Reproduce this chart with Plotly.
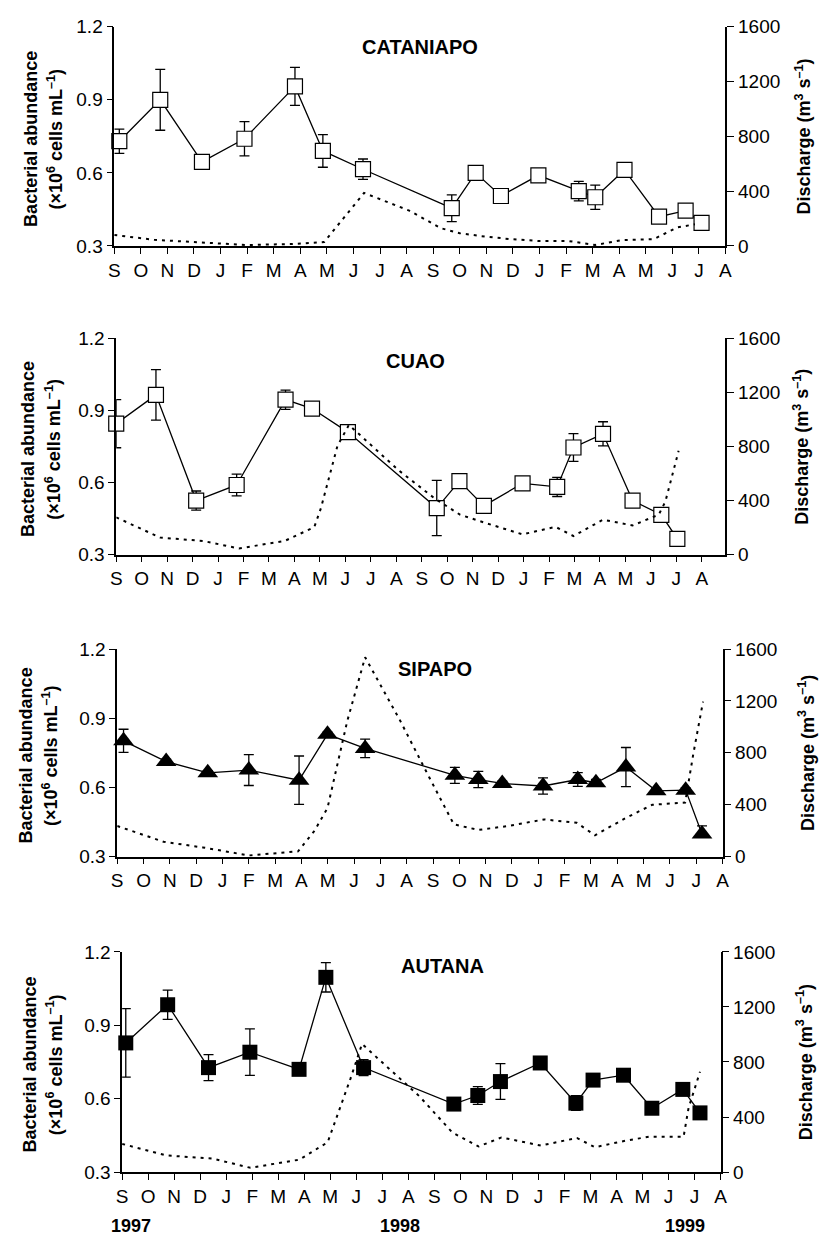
import plotly.graph_objects as go

W, H = 824, 1248

# Month axis: September 1997 to August 1999
months = ["S", "O", "N", "D", "J", "F", "M", "A", "M", "J", "J", "A"] * 2
month_pos = list(range(24))
years = ["1997", "1998", "1999"]

# ---- CATANIAPO ----
cat_x = [0.19, 1.73, 3.3, 4.9, 6.8, 7.85, 9.36, 12.7, 13.6, 14.55, 15.96, 17.48, 18.1, 19.2, 20.5, 21.5, 22.1]
cat_bact = [0.73, 0.90, 0.645, 0.74, 0.955, 0.69, 0.615, 0.455, 0.60, 0.505, 0.59, 0.525, 0.50, 0.612, 0.42, 0.445, 0.395]
cat_sd = [0.05, 0.125, 0.0, 0.07, 0.078, 0.067, 0.042, 0.055, 0.0, 0.0, 0.01, 0.04, 0.05, 0.005, 0.012, 0.0, 0.0]
cat_sd_lo = cat_sd
cat_qx = [0, 1.5, 3.6, 5.0, 6.7, 7.9, 9.4, 11.1, 12.3, 13.0, 13.8, 14.9, 16.0, 17.1, 18.1, 19.1, 20.3, 21.2, 21.85]
cat_q = [80, 45, 22, 7, 14, 29, 387, 258, 129, 93, 72, 50, 36, 36, 7, 43, 50, 136, 158]

# ---- CUAO ----
cuao_x = [0.0, 1.56, 3.14, 4.73, 6.65, 7.69, 9.1, 12.59, 13.48, 14.44, 15.96, 17.32, 17.96, 19.12, 20.28, 21.41, 22.04]
cuao_bact = [0.845, 0.965, 0.525, 0.59, 0.945, 0.908, 0.81, 0.494, 0.606, 0.503, 0.597, 0.582, 0.746, 0.803, 0.525, 0.466, 0.366]
cuao_sd = [0.10, 0.105, 0.04, 0.045, 0.04, 0.0, 0.0, 0.115, 0.0, 0.008, 0.0, 0.04, 0.058, 0.05, 0.0, 0.0, 0.0]
cuao_sd_lo = cuao_sd
cuao_qx = [0, 1.73, 3.4, 4.82, 6.62, 7.78, 8.04, 8.69, 9.14, 11.1, 12.5, 13.5, 14.5, 15.96, 17.25, 17.96, 19.12, 20.28, 21.31, 21.57, 22.09]
cuao_q = [276, 126, 102, 46, 102, 204, 344, 805, 960, 623, 417, 296, 235, 150, 206, 138, 259, 216, 296, 393, 768]

# ---- SIPAPO ----
sip_x = [0.24, 1.86, 3.44, 5.0, 6.91, 7.99, 9.42, 12.83, 13.72, 14.63, 16.18, 17.5, 18.19, 19.33, 20.48, 21.6, 22.22]
sip_bact = [0.802, 0.712, 0.663, 0.675, 0.631, 0.83, 0.769, 0.652, 0.634, 0.617, 0.606, 0.634, 0.62, 0.688, 0.585, 0.588, 0.398]
sip_sd = [0.05, 0.01, 0.01, 0.067, 0.105, 0.01, 0.04, 0.035, 0.035, 0.01, 0.035, 0.03, 0.015, 0.085, 0.01, 0.01, 0.035]
sip_sd_lo = [0.05, 0.01, 0.01, 0.067, 0.105, 0.01, 0.04, 0.035, 0.035, 0.01, 0.035, 0.03, 0.015, 0.085, 0.01, 0.01, 0.0]
sip_qx = [0, 1.76, 3.25, 5.0, 6.87, 7.5, 7.99, 8.74, 9.42, 10.73, 11.85, 12.79, 13.72, 14.85, 16.22, 17.46, 18.15, 19.33, 20.33, 21.58, 21.89, 22.26]
sip_q = [235, 114, 70, 8, 40, 200, 374, 1044, 1537, 1056, 613, 248, 205, 235, 286, 260, 164, 298, 399, 416, 791, 1195]

# ---- AUTANA ----
aut_x = [0.14, 1.75, 3.32, 4.91, 6.8, 7.83, 9.28, 12.75, 13.67, 14.54, 16.07, 17.44, 18.1, 19.27, 20.36, 21.55, 22.21]
aut_bact = [0.828, 0.984, 0.727, 0.79, 0.72, 1.096, 0.727, 0.578, 0.613, 0.67, 0.746, 0.582, 0.676, 0.696, 0.561, 0.638, 0.542]
aut_sd = [0.14, 0.06, 0.053, 0.095, 0.0, 0.06, 0.033, 0.0, 0.036, 0.073, 0.0, 0.03, 0.0, 0.0, 0.0, 0.0, 0.0]
aut_sd_lo = aut_sd
aut_qx = [0, 1.71, 3.48, 4.93, 6.82, 7.9, 8.78, 9.22, 10.67, 11.43, 12.69, 13.7, 14.58, 16.09, 17.48, 18.17, 19.37, 20.25, 21.58, 21.77, 22.21]
aut_q = [205, 121, 98, 31, 91, 217, 681, 931, 681, 550, 288, 186, 252, 193, 248, 181, 229, 257, 257, 466, 729]

FONT = "Liberation Sans, Arial, sans-serif"
TICK_SIZE = 19
LABEL_SIZE = 18


def fx(p):
    return p / W


def fy(p):
    return 1 - p / H


# Each panel: river name, series, frame in pixels (left, right, top, bottom), x-axis end,
# marker style, and positions of the text around it.
panels = [
    dict(name="CATANIAPO", x=cat_x, y=cat_bact, sd=cat_sd, sd_lo=cat_sd_lo, qx=cat_qx, q=cat_q,
         frame=(110, 731, 17, 240), xmax=23,
         marker=dict(symbol="square", size=15, color="white", line=dict(color="black", width=1.2)),
         title_xy=(421, 38), ylab_x=(26, 50), rlab_x=810),
    dict(name="CUAO", x=cuao_x, y=cuao_bact, sd=cuao_sd, sd_lo=cuao_sd_lo, qx=cuao_qx, q=cuao_q,
         frame=(112, 731, 334, 554), xmax=23.93,
         marker=dict(symbol="square", size=15, color="white", line=dict(color="black", width=1.2)),
         title_xy=(416, 357), ylab_x=(23, 48), rlab_x=808),
    dict(name="SIPAPO", x=sip_x, y=sip_bact, sd=sip_sd, sd_lo=sip_sd_lo, qx=sip_qx, q=sip_q,
         frame=(113, 728, 650, 861), xmax=23,
         marker=dict(symbol="triangle-up", size=18, color="black", line=dict(color="black", width=0)),
         title_xy=(436, 670), ylab_x=(20, 45), rlab_x=814),
    dict(name="AUTANA", x=aut_x, y=aut_bact, sd=aut_sd, sd_lo=aut_sd_lo, qx=aut_qx, q=aut_q,
         frame=(118, 726, 958, 1182), xmax=23,
         marker=dict(symbol="square", size=15, color="black", line=dict(color="black", width=0)),
         title_xy=(443, 972), ylab_x=(24, 50), rlab_x=812),
]

fig = go.Figure()
layout = {}
annotations = []

axis_common = dict(showgrid=False, zeroline=False, color="black",
                   tickfont=dict(family=FONT, size=TICK_SIZE, color="black"),
                   linecolor="black", linewidth=1.5, tickcolor="black", tickwidth=1.3)

for i, p in enumerate(panels):
    n = i + 1
    xname = "xaxis" if n == 1 else f"xaxis{n}"
    xref = "x" if n == 1 else f"x{n}"
    L, R, I = 3 * i + 1, 3 * i + 2, 3 * i + 3
    yLname = "yaxis" if L == 1 else f"yaxis{L}"
    yLref = "y" if L == 1 else f"y{L}"
    left, right, top, bottom = p["frame"]

    layout[xname] = dict(axis_common, domain=[fx(left), fx(right)], anchor=yLref,
                         range=[0, p["xmax"]], tickmode="array", tickvals=month_pos,
                         ticktext=months, ticks="outside", ticklen=6, showline=True)
    layout[yLname] = dict(axis_common, domain=[fy(bottom), fy(top)], anchor=xref,
                          range=[0.3, 1.2], tickmode="array", tickvals=[0.3, 0.6, 0.9, 1.2],
                          ticktext=["0.3", "0.6", "0.9", "1.2"], ticks="outside", ticklen=6,
                          showline=True)
    layout[f"yaxis{R}"] = dict(axis_common, overlaying=yLref, anchor=xref, side="right",
                               range=[0, 1600], tickmode="array",
                               tickvals=[0, 400, 800, 1200, 1600], ticks="outside",
                               ticklen=7, showline=True)
    # inward half of the crossing tick marks on the discharge axis
    layout[f"yaxis{I}"] = dict(axis_common, overlaying=yLref, anchor=xref, side="right",
                               range=[0, 1600], tickmode="array",
                               tickvals=[0, 400, 800, 1200, 1600], ticks="inside",
                               ticklen=7, showline=False, showticklabels=False)

    # bacterial abundance with error bars
    fig.add_trace(go.Scatter(
        x=p["x"], y=p["y"], xaxis=xref, yaxis=yLref, mode="lines+markers",
        line=dict(color="black", width=1.3), marker=p["marker"], cliponaxis=False,
        error_y=dict(type="data", symmetric=False, array=p["sd"], arrayminus=p["sd_lo"],
                     visible=True, color="black", thickness=1.3, width=5),
        showlegend=False))
    # river discharge
    fig.add_trace(go.Scatter(
        x=p["qx"], y=p["q"], xaxis=xref, yaxis=f"y{R}", mode="lines",
        line=dict(color="black", width=2, dash="3px,5px"), cliponaxis=False,
        showlegend=False))

    cy = (top + bottom) / 2 + 3
    annotations.append(dict(text=f"<b>{p['name']}</b>", x=fx(p["title_xy"][0]),
                            y=fy(p["title_xy"][1]), xref="paper", yref="paper",
                            showarrow=False, xanchor="center", yanchor="middle",
                            font=dict(family=FONT, size=20, color="black")))
    annotations.append(dict(text="<b>Bacterial abundance</b>", x=fx(p["ylab_x"][0]),
                            y=fy(cy), xref="paper", yref="paper", showarrow=False,
                            textangle=-90, xanchor="center", yanchor="middle",
                            font=dict(family=FONT, size=LABEL_SIZE, color="black")))
    annotations.append(dict(text="<b>(×10<sup>6</sup> cells mL<sup>–1</sup>)</b>",
                            x=fx(p["ylab_x"][1]), y=fy(cy), xref="paper", yref="paper",
                            showarrow=False, textangle=-90, xanchor="center",
                            yanchor="middle",
                            font=dict(family=FONT, size=LABEL_SIZE, color="black")))
    annotations.append(dict(text="<b>Discharge (m<sup>3</sup> s<sup>–1</sup>)</b>",
                            x=fx(p["rlab_x"]), y=fy((top + bottom) / 2), xref="paper",
                            yref="paper", showarrow=False, textangle=-90,
                            xanchor="center", yanchor="middle",
                            font=dict(family=FONT, size=LABEL_SIZE, color="black")))

# year labels under the bottom panel
for label, xp in zip(years, [127, 400, 690]):
    annotations.append(dict(text=f"<b>{label}</b>", x=fx(xp), y=fy(1237), xref="paper",
                            yref="paper", showarrow=False, xanchor="center",
                            yanchor="middle",
                            font=dict(family=FONT, size=18, color="black")))

fig.update_layout(
    width=W, height=H, margin=dict(l=0, r=0, t=0, b=0),
    paper_bgcolor="white", plot_bgcolor="white", showlegend=False,
    font=dict(family=FONT, color="black"),
    annotations=annotations, **layout)

fig.write_html("out.html")
